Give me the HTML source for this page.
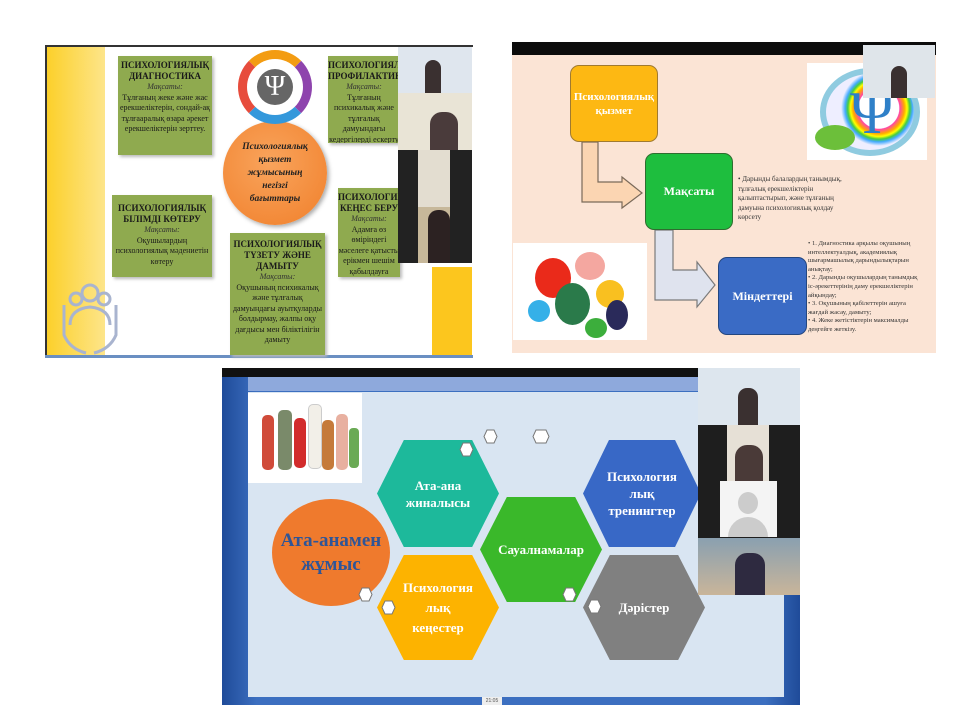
<!DOCTYPE html>
<html><head><meta charset="utf-8">
<style>
*{margin:0;padding:0;box-sizing:border-box}
body{width:960px;height:720px;background:#fff;position:relative;overflow:hidden;font-family:"Liberation Serif",serif}
.a{position:absolute}
.gb{position:absolute;background:#8faa4f;box-shadow:2px 2px 3px #bbb;color:#1a1a1a;text-align:center;font-size:8px;line-height:10.5px;padding-top:4px}
.gb b{display:block;font-size:9px;line-height:11px}
.gb i{display:block;color:#333}
.hex{position:absolute;clip-path:polygon(22% 0,78% 0,100% 50%,78% 100%,22% 100%,0 50%);display:flex;align-items:center;justify-content:center;text-align:center;color:#fff;font-weight:bold;font-size:13px;line-height:17px}
.vid{position:absolute}
</style></head><body>

<!-- Panel 1 -->
<div class="a" style="left:45px;top:45px;width:428px;height:313px;background:#fff;border-top:2px solid #333;border-left:2px solid #333"></div>
<div class="a" style="left:47px;top:47px;width:58px;height:311px;background:linear-gradient(90deg,#fcd02a,#fde58a)"></div>
<div class="a" style="left:432px;top:267px;width:40px;height:90px;background:#fcc61e"></div>
<div class="a" style="left:45px;top:355px;width:428px;height:3px;background:#6a8fc2"></div>
<svg class="a" style="left:60px;top:275px" width="60" height="80" viewBox="0 0 60 80"><g fill="none" stroke="#a9b4cf" stroke-width="3"><circle cx="30" cy="18" r="8"/><circle cx="16" cy="24" r="6"/><circle cx="44" cy="24" r="6"/><path d="M10 50 Q10 34 30 32 Q50 34 50 50"/><path d="M4 30 L4 60 Q10 74 26 78 M56 30 L56 60 Q50 74 34 78"/></g></svg>
<div class="gb" style="left:118px;top:56px;width:94px;height:99px"><b>ПСИХОЛОГИЯЛЫҚ ДИАГНОСТИКА</b><i>Мақсаты:</i>Тұлғаның жеке және жас ерекшеліктерін, сондай-ақ тұлғааралық өзара әрекет ерекшеліктерін зерттеу.</div>
<div class="gb" style="left:328px;top:56px;width:72px;height:87px;overflow:hidden"><b>ПСИХОЛОГИЯЛЫҚ ПРОФИЛАКТИКА</b><i>Мақсаты:</i>Тұлғаның психикалық және тұлғалық дамуындағы кедергілерді ескерту жасау</div>
<div class="gb" style="left:112px;top:195px;width:100px;height:82px;padding-top:8px"><b>ПСИХОЛОГИЯЛЫҚ БІЛІМДІ КӨТЕРУ</b><i>Мақсаты:</i>Оқушылардың психологиялық мәдениетін көтеру</div>
<div class="gb" style="left:230px;top:233px;width:95px;height:122px;padding-top:6px"><b>ПСИХОЛОГИЯЛЫҚ ТҮЗЕТУ ЖӘНЕ ДАМЫТУ</b><i>Мақсаты:</i>Оқушының психикалық және тұлғалық дамуындағы ауытқуларды болдырмау, жалпы оқу дағдысы мен біліктілігін дамыту</div>
<div class="gb" style="left:338px;top:188px;width:62px;height:89px;overflow:hidden"><b>ПСИХОЛОГИЯЛЫҚ КЕҢЕС БЕРУ</b><i>Мақсаты:</i>Адамға өз өміріндегі мәселеге қатысты ерікмен шешім қабылдауға көмектесу</div>
<div class="a" style="left:223px;top:121px;width:104px;height:104px;border-radius:50%;background:radial-gradient(circle at 45% 40%,#f9a45c,#f07f2a);box-shadow:2px 2px 4px #aaa;display:flex;align-items:center;justify-content:center;text-align:center;font-style:italic;font-weight:bold;font-size:9.5px;line-height:13px;color:#222">Психологиялық<br>қызмет<br>жұмысының<br>негізгі<br>бағыттары</div>
<div class="a" style="left:238px;top:50px;width:74px;height:74px;border-radius:50%;border:9px solid;border-color:#f39c12 #8e44ad #3498db #e74c3c"></div>
<div class="a" style="left:257px;top:69px;width:36px;height:36px;border-radius:50%;background:#666;color:#fff;font-size:28px;line-height:36px;text-align:center">Ψ</div>
<div class="vid" style="left:398px;top:47px;width:74px;height:46px;background:#dfe6ee"></div>
<div class="vid" style="left:425px;top:60px;width:16px;height:33px;background:#3a3030;border-radius:8px 8px 0 0"></div>
<div class="vid" style="left:398px;top:93px;width:74px;height:57px;background:#e9e4d6"></div>
<div class="vid" style="left:430px;top:112px;width:28px;height:38px;background:#4a3b3b;border-radius:12px 12px 0 0"></div>
<div class="vid" style="left:398px;top:150px;width:74px;height:113px;background:#222"></div>
<div class="vid" style="left:418px;top:150px;width:32px;height:57px;background:#e3ddd0"></div>
<div class="vid" style="left:418px;top:207px;width:32px;height:56px;background:#c7b89a"></div>
<div class="vid" style="left:428px;top:210px;width:22px;height:53px;background:#2c2222;border-radius:10px 10px 0 0"></div>

<!-- Panel 2 -->
<div class="a" style="left:512px;top:42px;width:424px;height:311px;background:#fbe4d5"></div>
<div class="a" style="left:512px;top:42px;width:424px;height:13px;background:#0c0c0c"></div>
<svg class="a" style="left:512px;top:42px" width="424" height="311">
<polygon points="70,100 86,100 86,140 110,140 110,135 130,151 110,166 110,160 70,160" fill="#fbd5b2" stroke="#7a6a5a" stroke-width="1.2"/>
<polygon points="143,188 161,188 161,228 185,228 185,220 203,243 185,265 185,258 143,258" fill="#dfe3ee" stroke="#7a7a7a" stroke-width="1.2"/>
</svg>
<div class="a" style="left:570px;top:65px;width:88px;height:77px;background:#fdb813;border:1.5px solid #a07a30;border-radius:9px;display:flex;align-items:center;justify-content:center;text-align:center;color:#fff;font-weight:bold;font-size:11px;line-height:14px">Психологиялық<br>қызмет</div>
<div class="a" style="left:645px;top:153px;width:88px;height:77px;background:#1ebe3e;border:1.5px solid #2f6d2f;border-radius:9px;display:flex;align-items:center;justify-content:center;color:#fff;font-weight:bold;font-size:12px">Мақсаты</div>
<div class="a" style="left:718px;top:257px;width:89px;height:78px;background:#3a6bc5;border:1.5px solid #234680;border-radius:9px;display:flex;align-items:center;justify-content:center;color:#fff;font-weight:bold;font-size:12px">Міндеттері</div>
<div class="a" style="left:738px;top:175px;width:120px;font-size:7px;line-height:9.5px;color:#333">• Дарынды балалардың танымдық, тұлғалық ерекшеліктерін қалыптастырып, және тұлғаның дамуына психологиялық қолдау көрсету</div>
<div class="a" style="left:808px;top:240px;width:115px;font-size:6.6px;line-height:8.6px;color:#333">• 1. Диагностика арқылы оқушының интеллектуалдық, академиялық шығармашылық дарындылықтарын анықтау;<br>• 2. Дарынды оқушылардың танымдық іс-әрекеттерінің даму ерекшеліктерін айқындау;<br>• 3. Оқушының қабілеттерін ашуға жағдай жасау, дамыту;<br>• 4. Жеке жетістіктерін максималды деңгейге жеткізу.</div>
<div class="a" style="left:807px;top:63px;width:120px;height:97px;background:#fff"></div>
<div class="a" style="left:820px;top:68px;width:100px;height:88px;border-radius:50%;border:6px solid #8fcbe0;background:radial-gradient(circle at 60% 45%,#fff 30%,#f4a 31%,#fa0 38%,#ff0 42%,#4c4 46%,#4af 50%,#eef 56%)"></div>
<div class="a" style="left:850px;top:78px;font-size:60px;line-height:70px;color:#2f80c8">Ψ</div>
<div class="a" style="left:815px;top:125px;width:40px;height:25px;border-radius:50%;background:#6cbf3a"></div>
<div class="vid" style="left:863px;top:45px;width:72px;height:53px;background:#dfe5ea"></div>
<div class="vid" style="left:891px;top:66px;width:16px;height:32px;background:#3a3030;border-radius:8px 8px 0 0"></div>
<div class="a" style="left:513px;top:243px;width:134px;height:97px;background:#fff"></div>
<div class="a" style="left:535px;top:258px;width:36px;height:40px;border-radius:50%;background:#ea2a1a"></div>
<div class="a" style="left:575px;top:252px;width:30px;height:28px;border-radius:50%;background:#f4a7a0"></div>
<div class="a" style="left:555px;top:283px;width:35px;height:42px;border-radius:50%;background:#2a7a4a"></div>
<div class="a" style="left:596px;top:280px;width:28px;height:28px;border-radius:50%;background:#f9c020"></div>
<div class="a" style="left:606px;top:300px;width:22px;height:30px;border-radius:50%;background:#2a2a5a"></div>
<div class="a" style="left:528px;top:300px;width:22px;height:22px;border-radius:50%;background:#35b0e8"></div>
<div class="a" style="left:585px;top:318px;width:22px;height:20px;border-radius:50%;background:#3cae3c"></div>

<!-- Panel 3 -->
<div class="a" style="left:222px;top:368px;width:578px;height:337px;background:linear-gradient(90deg,#1f4b99,#3c6fc0 6%,#3c6fc0 94%,#1f4b99)"></div>
<div class="a" style="left:222px;top:368px;width:578px;height:9px;background:#111"></div>
<div class="a" style="left:248px;top:377px;width:536px;height:14px;background:#8ea9dc"></div>
<div class="a" style="left:248px;top:392px;width:536px;height:305px;background:#d9e5f2"></div>
<div class="a" style="left:248px;top:393px;width:114px;height:90px;background:#fff"></div>
<div class="a" style="left:262px;top:415px;width:12px;height:55px;background:#d04b3a;border-radius:5px"></div>
<div class="a" style="left:278px;top:410px;width:14px;height:60px;background:#7a8a6a;border-radius:5px"></div>
<div class="a" style="left:294px;top:418px;width:12px;height:50px;background:#d22c2c;border-radius:5px"></div>
<div class="a" style="left:308px;top:404px;width:14px;height:65px;background:#f2efe8;border:1px solid #ccc;border-radius:5px"></div>
<div class="a" style="left:322px;top:420px;width:12px;height:50px;background:#c57a3a;border-radius:5px"></div>
<div class="a" style="left:336px;top:414px;width:12px;height:56px;background:#e8b0a0;border-radius:5px"></div>
<div class="a" style="left:349px;top:428px;width:10px;height:40px;background:#6aaa55;border-radius:4px"></div>
<div class="a" style="left:272px;top:499px;width:118px;height:107px;border-radius:50%;background:#ef7a2d;display:flex;align-items:center;justify-content:center;text-align:center;color:#2f5597;font-weight:bold;font-size:19px;line-height:24px">Ата-анамен<br>жұмыс</div>
<div class="hex" style="left:377px;top:440px;width:122px;height:107px;background:#1db99b">Ата-ана<br>жиналысы</div>
<div class="hex" style="left:377px;top:555px;width:122px;height:105px;background:#fdb300;line-height:20px">Психология<br>лық<br>кеңестер</div>
<div class="hex" style="left:480px;top:497px;width:122px;height:105px;background:#3ab82a">Сауалнамалар</div>
<div class="hex" style="left:583px;top:440px;width:118px;height:107px;background:#3868c6">Психология<br>лық<br>тренингтер</div>
<div class="hex" style="left:583px;top:555px;width:122px;height:105px;background:#808080">Дәрістер</div>
<svg class="a" style="left:0;top:0" width="960" height="720">
<g fill="#fff" stroke="#777" stroke-width="1">
<polygon points="487,430 494,430 497,436.5 494,443 487,443 484,436.5"/>
<polygon points="536,430 546,430 549,436.5 546,443 536,443 533,436.5"/>
<polygon points="463,443 470,443 473,449.5 470,456 463,456 460,449.5"/>
<polygon points="362,588 369,588 372,594.5 369,601 362,601 359,594.5"/>
<polygon points="385,601 392,601 395,607.5 392,614 385,614 382,607.5"/>
<polygon points="566,588 573,588 576,594.5 573,601 566,601 563,594.5"/>
<polygon points="591,600 598,600 601,606.5 598,613 591,613 588,606.5"/>
</g></svg>
<div class="vid" style="left:698px;top:368px;width:102px;height:57px;background:#dde6ee"></div>
<div class="vid" style="left:738px;top:388px;width:20px;height:37px;background:#3a3030;border-radius:9px 9px 0 0"></div>
<div class="vid" style="left:698px;top:425px;width:102px;height:113px;background:#1e1e1e"></div>
<div class="vid" style="left:727px;top:425px;width:42px;height:56px;background:#e6e0d6"></div>
<div class="vid" style="left:735px;top:445px;width:28px;height:36px;background:#4a3a38;border-radius:12px 12px 0 0"></div>
<div class="vid" style="left:720px;top:481px;width:57px;height:56px;background:#f4f4f4"></div>
<div class="vid" style="left:738px;top:492px;width:20px;height:22px;border-radius:50%;background:#ccc"></div>
<div class="vid" style="left:728px;top:517px;width:40px;height:20px;border-radius:20px 20px 0 0;background:#ccc"></div>
<div class="vid" style="left:698px;top:538px;width:102px;height:57px;background:linear-gradient(#8aa0b0,#c9b59a)"></div>
<div class="vid" style="left:735px;top:553px;width:30px;height:42px;background:#2e2a40;border-radius:12px 12px 0 0"></div>
<div class="a" style="left:482px;top:697px;width:20px;height:8px;background:#eee;font-family:'Liberation Sans',sans-serif;font-size:5px;line-height:8px;text-align:center;color:#555">21:05</div>
</body></html>
